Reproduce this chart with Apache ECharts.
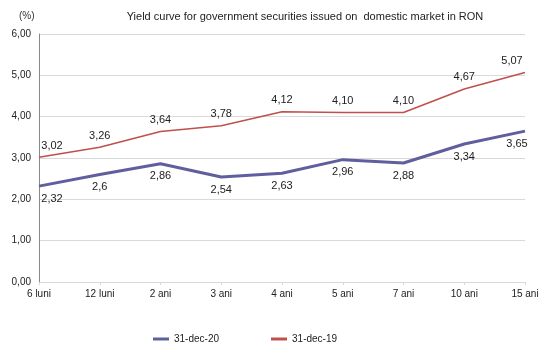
<!DOCTYPE html>
<html>
<head>
<meta charset="utf-8">
<script src="https://cdn.jsdelivr.net/npm/echarts@6/dist/echarts.min.js"></script>
<style>
	html, body { margin: 0; padding: 0; background: #fff; }
	#chart { width: 545px; height: 345px; }
</style>
</head>
<body>
<div id="chart"></div>
<script>
// date
const categories = ["6 luni", "12 luni", "2 ani", "3 ani", "4 ani", "5 ani", "7 ani", "10 ani", "15 ani"];
const dec20 = [2.32, 2.6, 2.86, 2.54, 2.63, 2.96, 2.88, 3.34, 3.65];
const dec19 = [3.02, 3.26, 3.64, 3.78, 4.12, 4.10, 4.10, 4.67, 5.07];
const yTicks = [0, 1, 2, 3, 4, 5, 6];

const font = "Liberation Sans, Arial, sans-serif";
const comma = s => String(s).replace(".", ",");

// primele/ultimele etichete mutate ca sa nu iasa din grafic
const withOffsets = (vals, first, last) => vals.map((v, i) => {
	if (i === 0) return { value: v, label: { offset: first } };
	if (i === vals.length - 1) return { value: v, label: { offset: last } };
	return v;
});

const myChart = echarts.init(document.getElementById("chart"));
const option = {
	backgroundColor: "#fff",
	textStyle: { fontFamily: font },
	title: [
		{
			text: "Yield curve for government securities issued on  domestic market in RON",
			left: 300, top: 6, textAlign: "center",
			textStyle: { fontSize: 11, fontWeight: "normal", color: "#222", fontFamily: font }
		},
		{
			text: "(%)",
			left: 14, top: 6,
			textStyle: { fontSize: 10, fontWeight: "normal", color: "#333", fontFamily: font }
		}
	],
	legend: {
		left: 148, top: 329,
		itemGap: 52,
		itemWidth: 16, itemHeight: 3,
		icon: "rect",
		textStyle: { fontSize: 10, color: "#222", fontFamily: font },
		data: ["31-dec-20", "31-dec-19"]
	},
	grid: { left: 39, right: 20, top: 34, bottom: 63 },
	xAxis: {
		type: "category",
		boundaryGap: false,
		data: categories,
		axisLine: { lineStyle: { color: "#d9d9d9" } },
		axisTick: { show: true, length: 3, lineStyle: { color: "#d9d9d9" } },
		axisLabel: { fontSize: 10, color: "#222", margin: 7, fontFamily: font }
	},
	yAxis: {
		type: "value",
		min: yTicks[0], max: yTicks[yTicks.length - 1], interval: 1,
		axisLine: { show: true, lineStyle: { color: "#888" } },
		axisTick: { show: false },
		splitLine: { lineStyle: { color: "#d9d9d9" } },
		axisLabel: { fontSize: 10, color: "#222", margin: 8, formatter: v => v.toFixed(2).replace(".", ","), fontFamily: font }
	},
	series: [
		{
			name: "31-dec-20",
			type: "line",
			data: withOffsets(dec20, [13, 0], [-8, 0]),
			symbol: "circle",
			symbolSize: 0.1,
			showSymbol: true,
			color: "#5f5f9e",
			lineStyle: { width: 3, color: "#5f5f9e" },
			label: {
				show: true, position: "bottom", distance: 7,
				fontSize: 11, color: "#222", fontFamily: font,
				formatter: p => comma(p.value)
			},
			z: 3
		},
		{
			name: "31-dec-19",
			type: "line",
			data: withOffsets(dec19, [13, 0], [-13, 0]),
			symbol: "circle",
			symbolSize: 0.1,
			showSymbol: true,
			color: "#c0504d",
			lineStyle: { width: 1.6, color: "#c0504d" },
			label: {
				show: true, position: "top", distance: 6,
				fontSize: 11, color: "#222", fontFamily: font,
				formatter: p => p.value.toFixed(2).replace(".", ",")
			},
			z: 2
		}
	]
};
myChart.setOption(option);
</script>
</body>
</html>
